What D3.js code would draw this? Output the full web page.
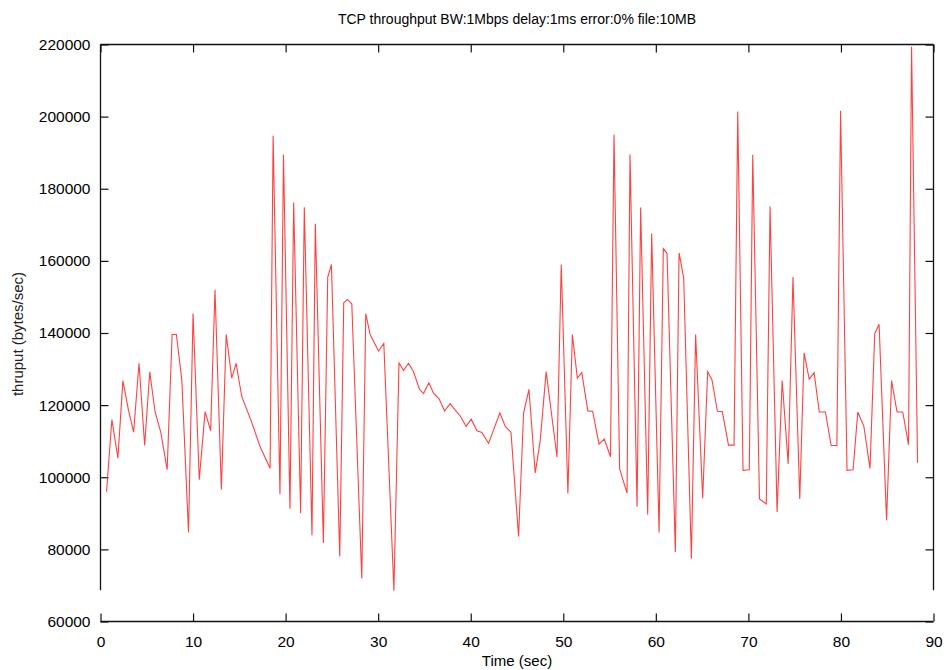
<!DOCTYPE html>
<html>
<head>
<meta charset="utf-8">
<script src="https://cdn.jsdelivr.net/npm/d3@7/dist/d3.min.js"></script>
<style>
  html, body { margin: 0; padding: 0; background: #fff; }
  svg { display: block; font-family: "Liberation Sans", Arial, Helvetica, sans-serif; }
  .tick text { fill: #000; }
</style>
</head>
<body>
<svg id="chart" width="944" height="670"></svg>
<script>
// Sample times (sec) and measured TCP throughput (bytes/sec)
const times = [
  0.65, 1.23, 1.88, 2.42, 3.0, 3.58, 4.16, 4.77, 5.32, 5.90,
  6.51, 7.2, 7.74, 8.2, 8.79, 9.51, 10.0, 10.67, 11.3, 11.9,
  12.37, 13.06, 13.58, 14.18, 14.65, 15.26, 16.3, 17.24, 18.32, 18.65,
  19.39, 19.77, 20.47, 20.87, 21.62, 22.02, 22.85, 23.21, 24.08, 24.55,
  24.95, 25.85, 26.28, 26.68, 27.15, 28.23, 28.66, 29.13, 30.04, 30.61,
  31.7, 32.25, 32.74, 33.27, 33.8, 34.46, 34.9, 35.48, 35.98, 36.6,
  37.17, 37.78, 38.3, 38.87, 39.5, 40.05, 40.67, 41.2, 41.93, 43.15,
  43.73, 44.35, 45.17, 45.71, 46.29, 46.97, 47.5, 48.15, 49.32, 49.78,
  50.5, 50.98, 51.52, 52.0, 52.65, 53.17, 53.86, 54.43, 55.1, 55.48,
  56.09, 56.89, 57.21, 57.97, 58.36, 59.12, 59.55, 60.35, 60.81, 61.21,
  62.11, 62.51, 63.01, 63.84, 64.3, 65.06, 65.6, 66.07, 66.65, 67.18,
  67.85, 68.45, 68.85, 69.42, 70.1, 70.47, 71.2, 71.93, 72.34, 73.1,
  73.65, 74.3, 74.82, 75.55, 76.02, 76.57, 77.1, 77.66, 78.32, 78.94,
  79.56, 79.96, 80.66, 81.31, 81.82, 82.48, 83.14, 83.65, 84.12, 84.93,
  85.47, 86.06, 86.68, 87.3, 87.63, 88.28
];
const thruput = [
  96000, 116000, 105300, 126800, 118900, 112500, 131600, 108800, 129200, 118100,
  112500, 102100, 139600, 139600, 126800, 84700, 145400, 99300, 118200, 112900,
  152000, 96600, 139600, 127500, 131600, 122400, 115500, 108500, 102500, 194700,
  95300, 189400, 91300, 176200, 90000, 174900, 83900, 170300, 81800, 155500,
  159000, 78000, 148400, 149300, 148100, 71900, 145400, 139600, 135000, 137100,
  68500, 131700, 129600, 131600, 129400, 124400, 123200, 126200, 123300, 121700,
  118400, 120400, 118700, 117000, 114100, 116100, 112900, 112400, 109400, 117900,
  114100, 112500, 83600, 117800, 124400, 101200, 110000, 129300, 105600, 159000,
  95500, 139600, 127500, 129000, 118400, 118300, 109200, 110600, 105700, 195000,
  102300, 95600, 189500, 91800, 174800, 89600, 167600, 84700, 163400, 162100,
  79300, 162200, 155300, 77400, 139600, 94200, 129300, 127000, 118300, 118200,
  108900, 108900, 201400, 101900, 102100, 189400, 94000, 92600, 175100, 90400,
  126800, 103700, 155500, 94000, 134500, 127200, 129000, 118100, 118100, 108800,
  108800, 201600, 101900, 102100, 118100, 114100, 102400, 139800, 142400, 88100,
  126800, 118100, 118100, 109000, 219400, 104000
];

const xTicks = [0, 10, 20, 30, 40, 50, 60, 70, 80, 90];
const yTicks = [60000, 80000, 100000, 120000, 140000, 160000, 180000, 200000, 220000];

const titleText = "TCP throughput BW:1Mbps delay:1ms error:0% file:10MB";
const xLabel = "Time (sec)";
const yLabel = "thruput (bytes/sec)";

const plotLeft = 100.5, plotRight = 933.5, plotTop = 44.5, plotBottom = 621.5;

const svg = d3.select("#chart");
const x = d3.scaleLinear().domain([0, 90]).range([plotLeft, plotRight]);
const y = d3.scaleLinear().domain([60000, 220000]).range([plotBottom, plotTop]);

const tickLen = 8;
const axisColor = "#111";

function styleAxis(g, showText) {
  g.select(".domain").remove();
  g.selectAll(".tick line").attr("stroke", axisColor).attr("stroke-width", 1.2);
  g.selectAll(".tick text").attr("font-size", 15.5).attr("fill", "#000");
  if (!showText) g.selectAll(".tick text").remove();
}

// bottom axis, ticks pointing into the plot
svg.append("g")
  .attr("transform", `translate(0,${plotBottom})`)
  .call(d3.axisBottom(x).tickValues(xTicks).tickSizeInner(-tickLen).tickSizeOuter(0).tickPadding(tickLen + 6))
  .call(g => styleAxis(g, true));

// top axis (ticks only)
svg.append("g")
  .attr("transform", `translate(0,${plotTop})`)
  .call(d3.axisTop(x).tickValues(xTicks).tickSizeInner(-tickLen).tickSizeOuter(0))
  .call(g => styleAxis(g, false));

// left axis
svg.append("g")
  .attr("transform", `translate(${plotLeft},0)`)
  .call(d3.axisLeft(y).tickValues(yTicks).tickFormat(d3.format("d")).tickSizeInner(-tickLen).tickSizeOuter(0).tickPadding(tickLen + 2))
  .call(g => styleAxis(g, true));

// right axis (ticks only)
svg.append("g")
  .attr("transform", `translate(${plotRight},0)`)
  .call(d3.axisRight(y).tickValues(yTicks).tickSizeInner(-tickLen).tickSizeOuter(0))
  .call(g => styleAxis(g, false));

// plot frame; the side borders stop short of the bottom axis
const gapY = y(68700);
const frame = svg.append("g").attr("stroke", axisColor).attr("stroke-width", 1.3).attr("fill", "none");
frame.append("line").attr("x1", plotLeft).attr("x2", plotRight).attr("y1", plotTop).attr("y2", plotTop);
frame.append("line").attr("x1", plotLeft).attr("x2", plotRight).attr("y1", plotBottom).attr("y2", plotBottom);
frame.append("line").attr("x1", plotLeft).attr("x2", plotLeft).attr("y1", plotTop).attr("y2", gapY);
frame.append("line").attr("x1", plotRight).attr("x2", plotRight).attr("y1", plotTop).attr("y2", gapY);

// throughput trace
const line = d3.line().x((d, i) => x(times[i])).y(d => y(d));
svg.append("path")
  .datum(thruput)
  .attr("d", line)
  .attr("fill", "none")
  .attr("stroke", "#ff2020")
  .attr("stroke-opacity", 0.85)
  .attr("stroke-width", 1.1)
  .attr("stroke-linejoin", "miter");

// titles
svg.append("text")
  .attr("x", 517).attr("y", 24)
  .attr("text-anchor", "middle")
  .attr("font-size", 14)
  .text(titleText);

svg.append("text")
  .attr("x", 517).attr("y", 666)
  .attr("text-anchor", "middle")
  .attr("font-size", 15)
  .text(xLabel);

svg.append("text")
  .attr("transform", `translate(23,334) rotate(-90)`)
  .attr("text-anchor", "middle")
  .attr("font-size", 15)
  .attr("fill", "#222")
  .text(yLabel);
</script>
</body>
</html>
